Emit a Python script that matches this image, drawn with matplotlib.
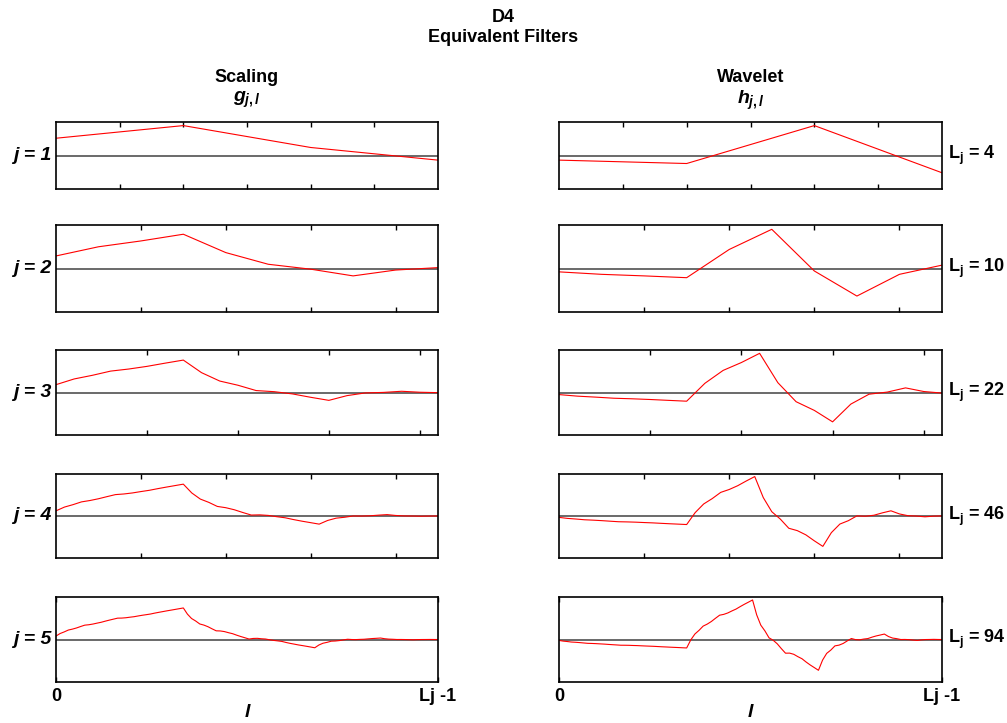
"""
D4 equivalent filters for levels j = 1..5 (scaling g_j,l and wavelet h_j,l).
Values are stored scaled by 2**(j/2) so each row has a similar range;
the y axis carries no numbers, so only the shape matters.
"""

import matplotlib

matplotlib.use("Agg")
import matplotlib.pyplot as plt

plt.rcParams["font.family"] = ["Liberation Sans", "DejaVu Sans"]
plt.rcParams["font.weight"] = "bold"
plt.rcParams["mathtext.fontset"] = "custom"
plt.rcParams["mathtext.rm"] = "Liberation Sans:bold"
plt.rcParams["mathtext.it"] = "Liberation Sans:bold:italic"
plt.rcParams["mathtext.bf"] = "Liberation Sans:bold"

levels = [1, 2, 3, 4, 5]
lengths = [4, 10, 22, 46, 94]
tick_steps = [0.5, 2, 5, 10, None]

g1 = [0.683, 1.183, 0.317, -0.183]
h1 = [-0.183, -0.317, 1.183, -0.683]

g2 = [0.467, 0.808, 1.025, 1.275, 0.592, 0.158, -0.025, -0.275, -0.058, 0.033]
h2 = [-0.125, -0.217, -0.275, -0.342, 0.708, 1.458, -0.092, -1.025, -0.217, 0.125]

g3 = [0.319, 0.552, 0.700, 0.871, 0.956, 1.064, 1.195, 1.320, 0.808, 0.467,
      0.296, 0.079, 0.033, -0.058, -0.195, -0.320, -0.127, -0.018, 0.004, 0.050,
      0.011, -0.006]
h3 = [-0.085, -0.148, -0.188, -0.233, -0.256, -0.285, -0.320, -0.354, 0.375, 0.900,
      1.220, 1.595, 0.400, -0.375, -0.729, -1.195, -0.473, -0.069, 0.017, 0.188,
      0.040, -0.023]

g4 = [0.218, 0.377, 0.478, 0.595, 0.653, 0.727, 0.816, 0.902, 0.929, 0.972,
      1.030, 1.084, 1.154, 1.219, 1.281, 1.343, 0.970, 0.714, 0.575, 0.404,
      0.350, 0.264, 0.148, 0.040, 0.048, 0.025, -0.029, -0.075, -0.152, -0.220,
      -0.281, -0.343, -0.188, -0.091, -0.053, 0.001, -0.003, 0.009, 0.036, 0.059,
      0.023, 0.003, -0.001, -0.009, -0.002, 0.001]
h4 = [-0.058, -0.101, -0.128, -0.159, -0.175, -0.195, -0.219, -0.242, -0.249, -0.260,
      -0.276, -0.290, -0.309, -0.327, -0.343, -0.360, 0.144, 0.508, 0.733, 0.996,
      1.118, 1.278, 1.476, 1.663, 0.778, 0.181, -0.129, -0.517, -0.617, -0.794,
      -1.047, -1.281, -0.702, -0.340, -0.197, 0.005, -0.010, 0.032, 0.133, 0.219,
      0.087, 0.013, -0.003, -0.034, -0.007, 0.004]

g5 = [0.149, 0.257, 0.326, 0.406, 0.446, 0.496, 0.558, 0.616, 0.634, 0.664,
      0.703, 0.740, 0.788, 0.833, 0.875, 0.917, 0.920, 0.934, 0.958, 0.979,
      1.011, 1.041, 1.067, 1.094, 1.132, 1.166, 1.198, 1.231, 1.261, 1.292,
      1.323, 1.355, 1.089, 0.902, 0.795, 0.667, 0.619, 0.549, 0.458, 0.373,
      0.367, 0.340, 0.292, 0.249, 0.185, 0.127, 0.074, 0.020, 0.045, 0.050,
      0.032, 0.021, -0.012, -0.039, -0.060, -0.083, -0.127, -0.166, -0.199, -0.233,
      -0.262, -0.292, -0.323, -0.355, -0.237, -0.160, -0.122, -0.073, -0.065, -0.046,
      -0.016, 0.011, -0.001, -0.004, 0.005, 0.011, 0.027, 0.041, 0.051, 0.063,
      0.034, 0.017, 0.010, 0.000, 0.001, -0.002, -0.007, -0.011, -0.004, -0.001,
      0.000, 0.002, 0.000, 0.000]
h5 = [-0.040, -0.069, -0.087, -0.109, -0.119, -0.133, -0.149, -0.165, -0.170, -0.178,
      -0.188, -0.198, -0.211, -0.223, -0.234, -0.246, -0.247, -0.250, -0.257, -0.262,
      -0.271, -0.279, -0.286, -0.293, -0.303, -0.313, -0.321, -0.330, -0.338, -0.346,
      -0.355, -0.363, -0.016, 0.236, 0.393, 0.575, 0.662, 0.774, 0.912, 1.044,
      1.079, 1.141, 1.228, 1.308, 1.413, 1.512, 1.604, 1.698, 1.059, 0.616,
      0.370, 0.071, -0.031, -0.186, -0.394, -0.588, -0.585, -0.635, -0.737, -0.826,
      -0.967, -1.094, -1.207, -1.323, -0.885, -0.596, -0.455, -0.274, -0.242, -0.170,
      -0.059, 0.042, -0.005, -0.013, 0.019, 0.040, 0.101, 0.152, 0.192, 0.234,
      0.128, 0.062, 0.036, -0.001, 0.002, -0.006, -0.024, -0.040, -0.016, -0.002,
      0.001, 0.006, 0.001, -0.001]

scaling = [g1, g2, g3, g4, g5]
wavelet = [h1, h2, h3, h4, h5]

W, H = 1007, 723
FS = 13

# panel boxes in pixels (top, bottom) per row and (left, right) per column
rows_px = [(122, 189), (225, 312), (350, 435), (474, 558), (597, 682)]
cols_px = [(56, 438), (559, 942)]
pads = [1.12, 1.11, 1.085, 1.065, 1.075]


def box(x0, x1, y0, y1):
    return [x0 / W, 1 - y1 / H, (x1 - x0) / W, (y1 - y0) / H]


fig = plt.figure(figsize=(W / 100, H / 100), dpi=100)

for i, j in enumerate(levels):
    top, bot = rows_px[i]
    n = lengths[i]
    lim = pads[i] * max(abs(v) for v in scaling[i] + wavelet[i])
    for k, series in enumerate([scaling[i], wavelet[i]]):
        left, right = cols_px[k]
        ax = fig.add_axes(box(left, right, top, bot))
        ax.axhline(0, color="#505050", lw=1.2, zorder=1)
        ax.plot(range(len(series)), series, color="red", lw=0.8, zorder=2)
        ax.set_xlim(0, n - 1)
        ax.set_ylim(-lim, lim)
        ax.set_yticks([])
        for sp in ax.spines.values():
            sp.set_linewidth(1.2)

        last = i == len(levels) - 1
        if last:
            ax.set_xticks([0, n - 1])
            ax.set_xticklabels(["0", "Lj -1"], fontsize=FS, fontweight="bold")
        else:
            step = tick_steps[i]
            ticks = []
            t = step
            while t < n - 1 - 1e-9:
                ticks.append(t)
                t += step
            ax.set_xticks(ticks)
        ax.tick_params(axis="x", direction="in", top=True, bottom=True,
                       length=3.5, width=1, labelbottom=last, pad=4)

        if k == 0:
            ax.text(-0.012, 0.5, f"j = {j}", transform=ax.transAxes,
                    ha="right", va="center", fontsize=FS + 1, style="italic")
        else:
            ax.text(1.015, 0.5, rf"L$_\mathrm{{j}}$ = {n}", transform=ax.transAxes,
                    ha="left", va="center", fontsize=FS)

# titles
fig.text(0.5, 1 - 17 / H, "D4", ha="center", va="center", fontsize=FS)
fig.text(0.5, 1 - 37 / H, "Equivalent Filters", ha="center", va="center", fontsize=FS)

for (left, right), name, sym in zip(cols_px, ["Scaling", "Wavelet"],
                                    [r"$g_{j,l}$", r"$h_{j,l}$"]):
    xc = (left + right) / 2 / W
    fig.text(xc, 1 - 77 / H, name, ha="center", va="center", fontsize=FS)
    fig.text(xc, 1 - 100 / H, sym, ha="center", va="center", fontsize=FS + 1)
    fig.text(xc, 1 - 704 / H, "l", ha="center", va="top", fontsize=FS + 1,
             style="italic")

fig.savefig("out.png", dpi=100)
